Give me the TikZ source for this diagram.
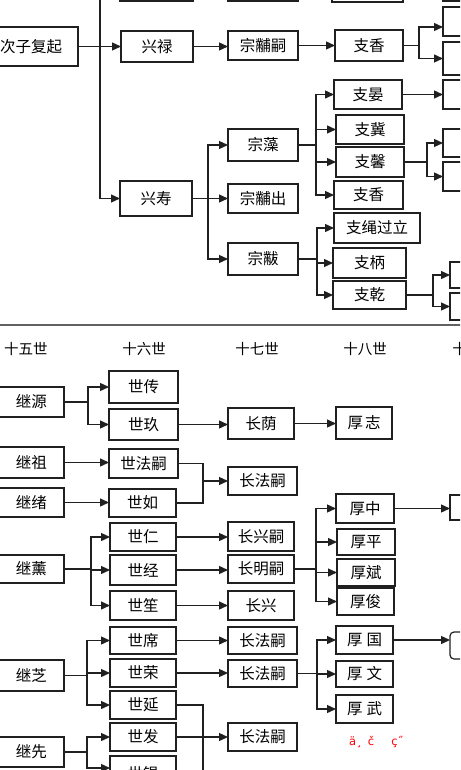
\documentclass[tikz,border=0pt]{standalone}
\usepackage{fontspec}
\newfontfamily\cjk{Noto Sans CJK SC}
\newfontfamily\dvs{DejaVu Sans}
\usetikzlibrary{arrows.meta}
\definecolor{ink}{HTML}{202020}
\tikzset{
 bx/.style={draw=ink, line width=1.2pt, inner sep=0pt, outer sep=0pt, font=\cjk\fontsize{15.5}{18}\selectfont, text=black},
 ln/.style={draw=ink, line width=1.3pt},
 arr/.style={ln, -{Triangle[length=9pt,width=8pt]}},
 hd/.style={font=\cjk\fontsize{14.5}{17}\selectfont, inner sep=0pt},
}
\newcommand\bx[6]{\node[bx, minimum width={(#4)-(#2)}, minimum height={(#5)-(#3)}] (#1) at ({((#2)+(#4))/2},{((#3)+(#5))/2}) {#6};}
\begin{document}
\begin{tikzpicture}[x=1pt,y=-1pt]
\useasboundingbox (0,0) rectangle (460,770);
\clip (0,0) rectangle (460,770);
\fill[white] (0,0) rectangle (460,770);
% ---------------- top panel
\bx{t1}{120}{-30}{193}{1}{}
\bx{t2}{228}{-30}{298}{1}{}
\bx{t3}{332}{-30}{403}{2}{}
\bx{t4}{443}{-30}{480}{1}{}
\bx{czfq}{-16}{27}{78}{66}{次子复起}
\bx{xl}{121}{31}{193}{62}{兴禄}
\bx{zfs}{228}{31}{298}{60}{宗黼嗣}
\bx{zx1}{335}{30}{403}{61}{支香}
\bx{r1}{443}{7}{480}{36}{}
\bx{r2}{443}{42}{480}{75}{}
\bx{r3}{443}{80}{480}{109}{}
\bx{r4}{443}{129}{480}{157}{}
\bx{r5}{443}{162}{480}{191}{}
\bx{r6}{450}{262}{480}{288}{}
\bx{r7}{450}{293}{480}{320}{}
\bx{zy}{334}{80}{402}{109}{支晏}
\bx{zj}{336}{115}{404}{144}{支冀}
\bx{zxin}{336}{147}{404}{177}{支馨}
\bx{zx2}{334}{181}{403}{209}{支香}
\bx{zz}{228}{129}{298}{161}{宗藻}
\bx{zfc}{228}{184}{298}{213}{宗黼出}
\bx{xs}{120}{181}{192}{216}{兴寿}
\bx{zf}{228}{243}{298}{275}{宗黻}
\bx{zsgl}{334}{213}{420}{243}{支绳过立}
\bx{zb}{333}{248}{406}{278}{支柄}
\bx{zq}{333}{281}{406}{309}{支乾}
\coordinate (v0) at (100,-5);
\draw[arr] (v0) |- (xs.west);
\draw[arr] (czfq.east) -- (czfq.east -| xl.west);
\draw[arr] (xl.east) -- (xl.east -| zfs.west);
\draw[arr] (zfs.east) -- (zfs.east -| zx1.west);
\coordinate (f1) at (419,45.5);
\draw[ln] (zx1.east) -- (f1);
\draw[arr] (f1) |- ([yshift=-5.5pt]r1.west);
\draw[arr] (f1) |- (r2.west);
\draw[arr] (zy.east) -- (zy.east -| r3.west);
\coordinate (f2) at (316,145);
\draw[ln] (zz.east) -- (f2);
\draw[arr] (f2) |- (zy.west);
\draw[arr] (f2) |- (zj.west);
\draw[arr] (f2) |- (zxin.west);
\draw[arr] (f2) |- (zx2.west);
\coordinate (f3) at (427,162);
\draw[ln] (zxin.east) -- (f3);
\draw[arr] (f3) |- (r4.west);
\draw[arr] (f3) |- (r5.west);
\coordinate (f4) at (208,198.5);
\draw[ln] (xs.east) -- (f4);
\draw[arr] (f4) |- (zz.west);
\draw[arr] (f4) |- (zfc.west);
\draw[arr] (f4) |- (zf.west);
\coordinate (f5) at (317,259);
\draw[ln] (zf.east) -- (f5);
\draw[arr] (f5) |- (zsgl.west);
\draw[arr] (f5) |- (zb.west);
\draw[arr] (f5) |- (zq.west);
\coordinate (f6) at (433,295);
\draw[ln] (zq.east) -- (f6);
\draw[arr] (f6) |- (r6.west);
\draw[arr] (f6) |- (r7.west);
% divider
\draw[line width=2.4pt, draw=black!62] (-5,325) -- (465,325);
% ---------------- lower panel
\node[hd] (h15) at (26,349) {十五世};
\node[hd] (h16) at (144,349) {十六世};
\node[hd] (h17) at (257,349) {十七世};
\node[hd] (h18) at (365,349) {十八世};
\node[hd] (h19) at (474,349) {十九世};
\bx{jy}{-1}{387}{64}{417}{继源}
\bx{sc}{109}{371}{178}{403}{世传}
\bx{sj}{109}{409}{178}{440}{世玖}
\bx{cy}{228}{408}{294}{439}{长荫}
\bx{hz}{336}{407}{392}{439}{厚\hspace{2pt}志}
\bx{jz}{-1}{447}{64}{478}{继祖}
\bx{sfs}{109}{449}{178}{478}{世法嗣}
\bx{cfs1}{228}{467}{297}{495}{长法嗣}
\bx{jx}{-1}{488}{64}{517}{继绪}
\bx{sr}{109}{489}{176}{517}{世如}
\bx{jxun}{-1}{555}{64}{583}{继薰}
\bx{sren}{110}{523}{176}{551}{世仁}
\bx{sjing}{110}{555}{176}{585}{世经}
\bx{ssheng}{110}{591}{176}{620}{世笙}
\bx{cxs}{228}{522}{294}{551}{长兴嗣}
\bx{cms}{228}{555}{294}{583}{长明嗣}
\bx{cx}{228}{591}{294}{620}{长兴}
\bx{hzh}{336}{494}{394}{523}{厚中}
\bx{hp}{337}{529}{395}{555}{厚平}
\bx{hb}{337}{559}{395}{586}{厚斌}
\bx{hj}{337}{588}{394}{615}{厚俊}
\bx{r8}{450}{495}{480}{520}{}
\bx{sx}{110}{627}{176}{654}{世席}
\bx{srong}{110}{659}{176}{687}{世荣}
\bx{syan}{110}{691}{176}{719}{世延}
\bx{jzhi}{-1}{660}{64}{691}{继芝}
\bx{cfs2}{228}{627}{297}{654}{长法嗣}
\bx{cfs3}{228}{660}{297}{687}{长法嗣}
\bx{cfs4}{228}{723}{297}{751}{长法嗣}
\bx{sfa}{110}{723}{176}{751}{世发}
\bx{sk}{110}{756}{176}{792}{世锟}
\bx{jxian}{-1}{737}{64}{767}{继先}
\bx{hg}{336}{626}{393}{654}{厚\hspace{4pt}国}
\bx{hw}{336}{661}{393}{687}{厚\hspace{4pt}文}
\bx{hwu}{336}{695}{393}{723}{厚\hspace{4pt}武}
\node[bx, rounded corners=4pt, minimum width=30pt, minimum height=27pt] (r9) at (465,645.5) {};
% connectors
\coordinate (g1) at (88,402);
\draw[ln] (jy.east) -- (g1);
\draw[arr] (g1) |- (sc.west);
\draw[arr] (g1) |- (sj.west);
\draw[arr] (sj.east) -- (sj.east -| cy.west);
\draw[arr] (cy.east) -- (cy.east -| hz.west);
\draw[arr] (jz.east) -- (jz.east -| sfs.west);
\draw[arr] (jx.east) -- (jx.east -| sr.west);
\coordinate (g2) at (203,481);
\draw[ln] (sfs.east) -| (g2);
\draw[ln] (sr.east) -| (g2);
\draw[arr] (g2) -- (g2 -| cfs1.west);
\coordinate (g3) at (91,569);
\draw[ln] (jxun.east) -- (g3);
\draw[arr] (g3) |- (sren.west);
\draw[arr] (g3) |- (sjing.west);
\draw[arr] (g3) |- (ssheng.west);
\draw[arr] (sren.east) -- (sren.east -| cxs.west);
\draw[arr] (sjing.east) -- (sjing.east -| cms.west);
\draw[arr] (ssheng.east) -- (ssheng.east -| cx.west);
\coordinate (g4) at (316,569);
\draw[ln] (cms.east) -- (g4);
\draw[arr] (g4) |- (hzh.west);
\draw[arr] (g4) |- (hp.west);
\draw[arr] (g4) |- (hb.west);
\draw[arr] (g4) |- (hj.west);
\draw[arr] (hzh.east) -- (hzh.east -| r8.west);
\coordinate (g5) at (87,673);
\draw[ln] (jzhi.east) -- (jzhi.east -| g5);
\draw[arr] (g5) |- (sx.west);
\draw[arr] (g5) |- (srong.west);
\draw[arr] (g5) |- (syan.west);
\draw[arr] (sx.east) -- (sx.east -| cfs2.west);
\draw[arr] (srong.east) -- (srong.east -| cfs3.west);
\coordinate (g6) at (203,795);
\draw[ln] (syan.east) -| (g6);
\draw[arr] (sfa.east) -- (sfa.east -| cfs4.west);
\coordinate (g7) at (87,751);
\draw[ln] (jxian.east) -- (jxian.east -| g7);
\draw[arr] (g7) |- (sfa.west);
\draw[arr] (g7) |- ([yshift=6pt]sk.west);
\coordinate (g8) at (317,673.5);
\draw[ln] (cfs3.east) -- (g8);
\draw[arr] (g8) |- (hg.west);
\draw[arr] (g8) |- (hw.west);
\draw[arr] (g8) |- (hwu.west);
\draw[arr] (hg.east) -- (hg.east -| r9.west);
\node[anchor=west, inner sep=0pt, text=red, font=\dvs\fontsize{11.5}{13}\selectfont] (red) at (349,742) {ä¸\hspace{6pt}č\hspace{17pt}ç˝};
\end{tikzpicture}
\end{document}
